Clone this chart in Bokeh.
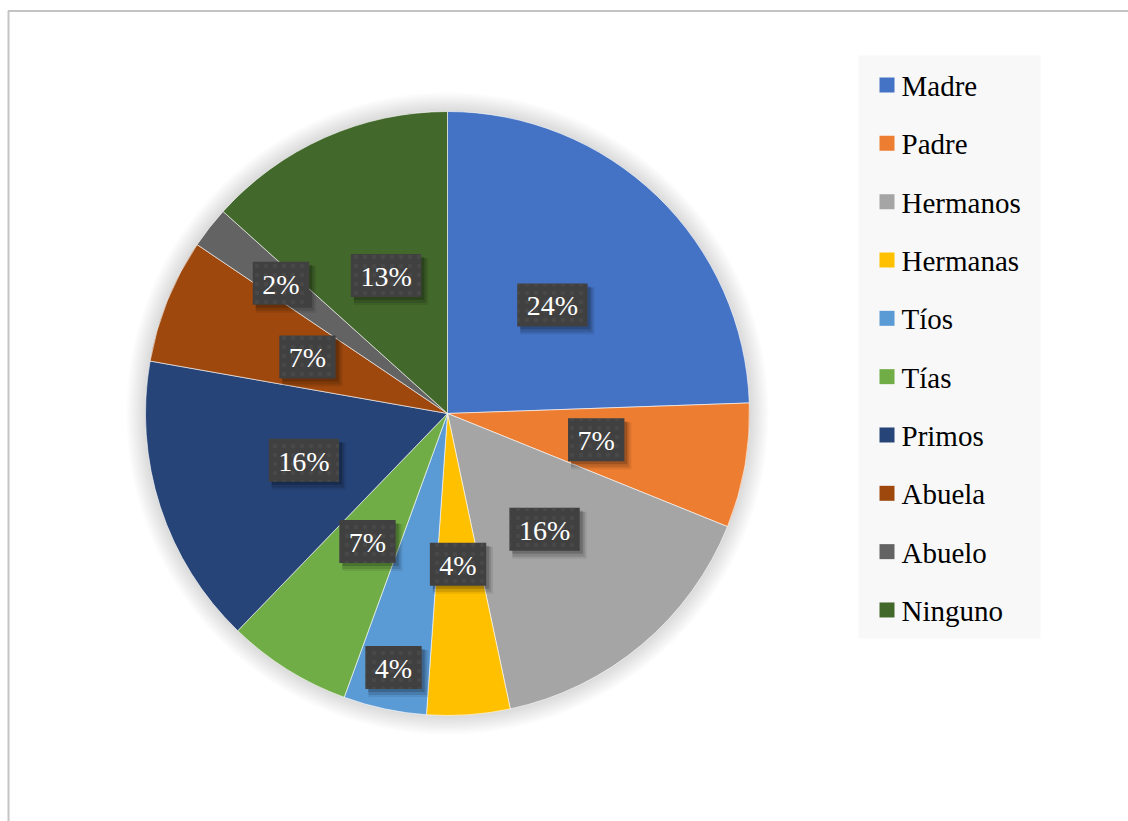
import math
from bokeh.plotting import figure
from bokeh.models import Range1d, ColumnDataSource
from bokeh.core.properties import value
from bokeh.embed import file_html
from bokeh.resources import INLINE

# ---- data ----
categories = ["Madre", "Padre", "Hermanos", "Hermanas", "Tíos", "Tías",
              "Primos", "Abuela", "Abuelo", "Ninguno"]
counts = [11, 3, 7, 2, 2, 3, 7, 3, 1, 6]
colors = ["#4472C4", "#ED7D31", "#A5A5A5", "#FFC000", "#5B9BD5", "#70AD47",
          "#264478", "#9E480E", "#636363", "#43682B"]

# ---- layout (styling, not data) ----
label_radius_frac = [0.5, 0.5, 0.5, 0.5, 0.86, 0.5, 0.5, 0.5, 0.70, 0.5]
W, H = 1128, 821
CX, CY, R = 447, 408, 302
FONT = "Liberation Serif"
FS = 28
LEG_FS = 29

total = sum(counts)
starts, ends, mids = [], [], []
acc = 0
for c in counts:
    t1 = acc / total * 2 * math.pi
    acc += c
    t2 = acc / total * 2 * math.pi
    # clockwise-from-top -> bokeh (anticlockwise from +x)
    starts.append(math.pi / 2 - t2)
    ends.append(math.pi / 2 - t1)
    mids.append(math.pi / 2 - (t1 + t2) / 2)

pct = [f"{round(c / total * 100)}%" for c in counts]

p = figure(width=W, height=H, output_backend="svg", toolbar_location=None,
           x_range=Range1d(0, W), y_range=Range1d(0, H), min_border=0)
p.axis.visible = False
p.grid.visible = False
p.outline_line_color = None
p.background_fill_color = "white"
p.border_fill_color = "white"

# chart-area border (top and left visible)
p.segment(x0=[7.5, 8], y0=[H - 10.5, 0], x1=[W, 8], y1=[H - 10.5, H - 10.5],
          line_color="#C4C4C4", line_width=2)

# soft shadow around the pie
for k in range(1, 13):
    p.circle(x=[CX], y=[CY], radius=R + 1.6 * k, fill_color="black",
             fill_alpha=0.01, line_color=None)

src = ColumnDataSource(dict(start=starts, end=ends, color=colors, cat=categories))
p.wedge(x=CX, y=CY, radius=R, start_angle="start", end_angle="end",
        fill_color="color", line_color="white", line_width=0.6, source=src)

# data labels
lx = [CX + f * R * math.cos(a) for f, a in zip(label_radius_frac, mids)]
ly = [CY + f * R * math.sin(a) for f, a in zip(label_radius_frac, mids)]


def text_w(s):
    return sum(0.833 if ch == "%" else 0.5 for ch in s) * FS


bw = [text_w(s) + 19 for s in pct]
bh = 43
for dx, dy, al, grow in [(5, -6, 0.08, 4), (4, -5, 0.12, 2), (3, -3, 0.18, 0)]:
    p.rect(x=[x + dx for x in lx], y=[y + dy for y in ly],
           width=[w + grow for w in bw], height=bh + grow,
           fill_color="black", fill_alpha=al, line_color=None)
p.rect(x=lx, y=ly, width=bw, height=bh, fill_color="#404040", line_color=None,
       hatch_pattern="dot", hatch_color="#555555", hatch_scale=9,
       hatch_weight=2, hatch_alpha=0.35)
p.text(x=lx, y=[y - 1 for y in ly], text=pct, text_color="white",
       text_font=value(FONT), text_font_size=f"{FS}px",
       text_align="center", text_baseline="middle")

# legend
LX0, LX1, LY0, LY1 = 858, 1040, 183, 766
p.rect(x=[(LX0 + LX1) / 2], y=[(LY0 + LY1) / 2], width=LX1 - LX0,
       height=LY1 - LY0, fill_color="#F8F8F8", line_color=None)
step = 58.33
ys = [736.5 - step * i for i in range(len(categories))]
p.rect(x=[886.5] * len(categories), y=ys, width=15, height=15,
       fill_color=colors, line_color=None)
p.text(x=[901] * len(categories), y=[y - 1 for y in ys], text=categories,
       text_color="black", text_font=value(FONT), text_font_size=f"{LEG_FS}px",
       text_align="left", text_baseline="middle")

open("out.html", "w").write(file_html(p, INLINE))
